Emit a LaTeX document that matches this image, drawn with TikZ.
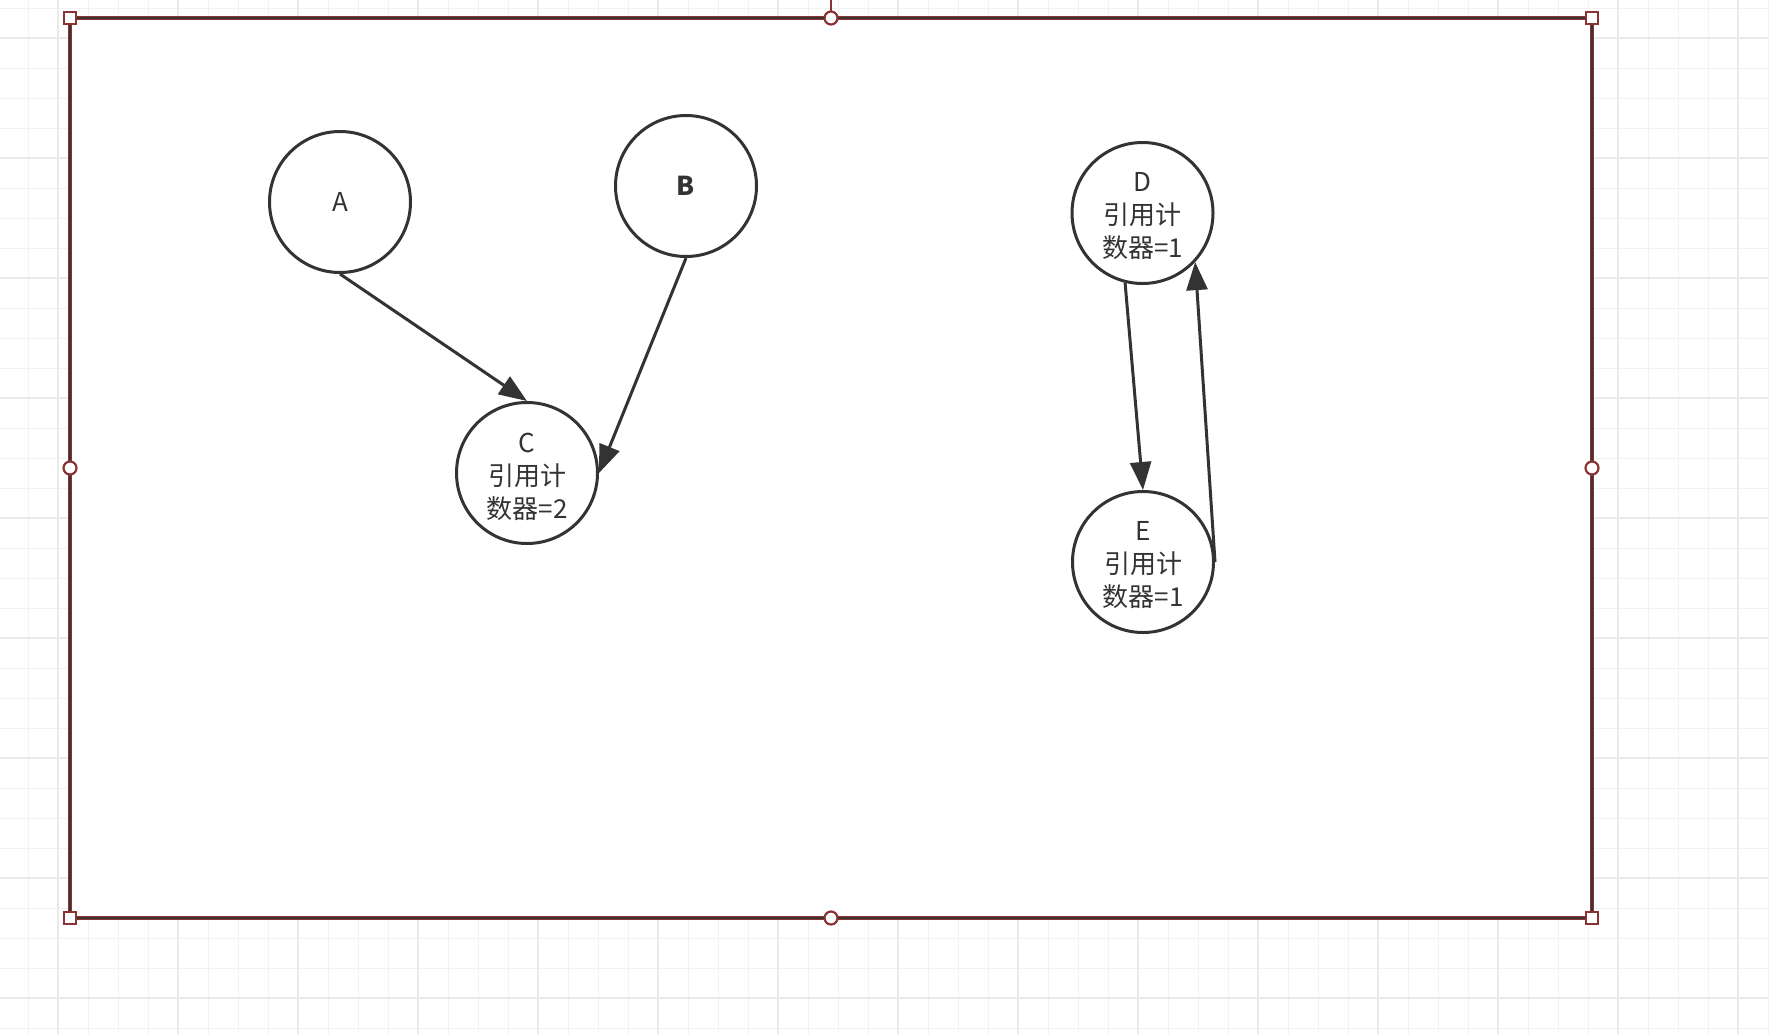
\documentclass[tikz,border=0pt]{standalone}
\usepackage{fontspec}
\setmainfont{Noto Sans CJK SC}
\usetikzlibrary{arrows.meta}
\definecolor{ink}{HTML}{333333}
\definecolor{sel}{HTML}{8B3333}
\definecolor{gridminor}{HTML}{F2F2F2}
\definecolor{gridmajor}{HTML}{EAEAEA}
\tikzset{
  minorline/.style={gridminor, line width=1.6pt},
  majorline/.style={gridmajor, line width=2pt},
  ball/.style={circle, draw=ink, line width=3pt, fill=white, minimum size=141pt, inner sep=0pt,
    align=center, font=\fontsize{26}{33}\selectfont, text=ink},
  balltext/.style={align=center, font=\fontsize{26}{33}\selectfont, text=ink, inner sep=0pt},
  link/.style={draw=ink, line width=3pt, -{Triangle[length=28pt,width=21pt]}},
  sqhandle/.style={rectangle, draw=sel, line width=2.2pt, fill=white, minimum size=12.5pt, inner sep=0pt},
  cirhandle/.style={circle, draw=sel, line width=2.2pt, fill=white, minimum size=13pt, inner sep=0pt},
}
\begin{document}
\begin{tikzpicture}[x=1pt,y=-1pt]
\useasboundingbox (0,0) rectangle (1769,1034);
\fill[white] (0,0) rectangle (1769,1034);
% grid
\foreach \x in {28.3,58.3,...,1769} \draw[minorline] (\x,0) -- (\x,1034);
\foreach \y in {8.3,38.3,...,1034} \draw[minorline] (0,\y) -- (1769,\y);
\foreach \x in {58.3,178.3,...,1769} \draw[majorline] (\x,0) -- (\x,1034);
\foreach \y in {38.3,158.3,...,1034} \draw[majorline] (0,\y) -- (1769,\y);
% frame
\fill[white] (70,18) rectangle (1592,918);
\draw[sel, line width=4.5pt] (70,18) rectangle (1592,918);
\draw[ink!90!sel, line width=2.6pt] (70,18) rectangle (1592,918);
\draw[sel, line width=2pt] (831,0) -- (831,11);
% nodes
\node[ball] (A) at (340,202) {A};
\node[ball] (B) at (686,186) {\textbf{B}};
\node[ball] (C) at (527,473) {};
\node[ball] (D) at (1142.5,213) {};
\node[ball] (E) at (1143,562) {};
\node[balltext] (Ct) at ([yshift=-3.5pt]C.center) {C\\引用计\\数器=2};
\node[balltext] (Dt) at ([yshift=-3.5pt]D.center) {D\\引用计\\数器=1};
\node[balltext] (Et) at ([yshift=-3.5pt]E.center) {E\\引用计\\数器=1};
% connectors
\draw[link] (A.south) -- (C.north);
\draw[link] (B.south) -- (C.east);
\draw[link] (D.-104) -- (E.north);
\draw[link] (E.east) -- (D.-43);
% selection handles
\node[sqhandle] (h1) at (70,18) {};
\node[sqhandle] (h2) at (1592,18) {};
\node[sqhandle] (h3) at (70,918) {};
\node[sqhandle] (h4) at (1592,918) {};
\node[cirhandle] (h5) at (831,18) {};
\node[cirhandle] (h6) at (831,918) {};
\node[cirhandle] (h7) at (70,468) {};
\node[cirhandle] (h8) at (1592,468) {};
\end{tikzpicture}
\end{document}
